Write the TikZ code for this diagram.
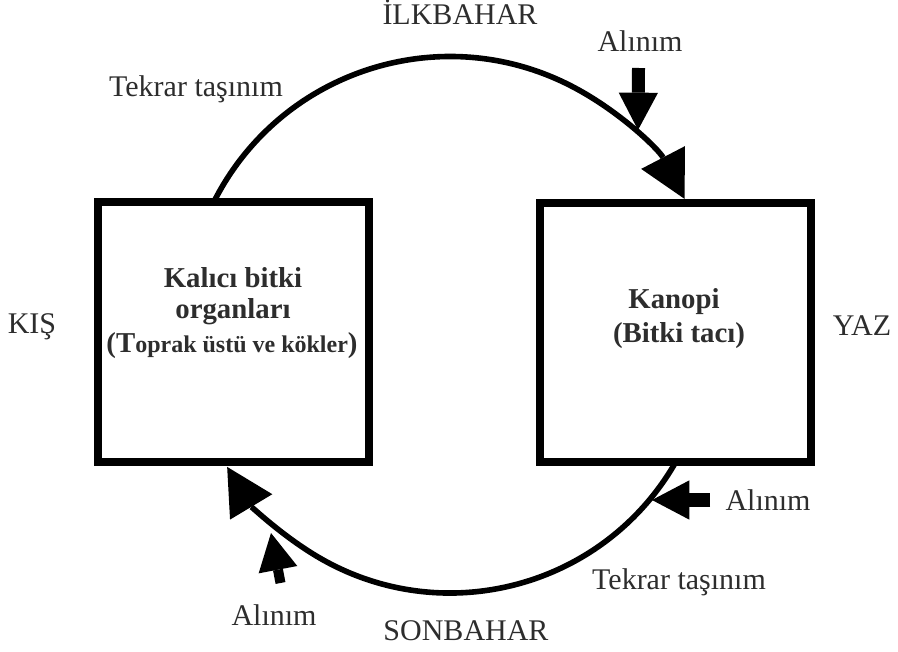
\documentclass[tikz,border=0pt]{standalone}
\usepackage{fontspec}
\setmainfont{Liberation Serif}
\usetikzlibrary{arrows.meta}
\definecolor{txtgray}{RGB}{45,45,45}
\begin{document}
\begin{tikzpicture}[x=0.75pt,y=-0.75pt,
  lbl/.style={font=\fontsize{22.5}{26}\selectfont, text=txtgray, inner sep=0pt, anchor=base},
  boxtxt/.style={font=\bfseries\fontsize{21.6}{25}\selectfont, text=txtgray, inner sep=0pt, anchor=base},
  organ/.style={draw=black, line width=6pt, inner sep=0pt},
  cyclearc/.style={line width=4.2pt, -{Triangle[length=35pt,width=37pt,line width=0pt]}},
  blockarr/.style={line width=#1, -{Triangle[length=28pt,width=29.5pt,line width=0pt]}}
]
\useasboundingbox (0,0) rectangle (898,652);

% boxes
\node[organ, minimum width=203.6pt, minimum height=195pt] (lbox) at (233.25,332) {};
\node[organ, minimum width=202.9pt, minimum height=194.6pt] (rbox) at (675.75,332.75) {};

% box texts
\node[boxtxt] (lt1) at (233,287) {Kalıcı bitki};
\node[boxtxt] (lt2) at (233,318) {organları};
\node[boxtxt] (lt3) at (232,352) {(T{\fontsize{18}{21}\selectfont oprak üstü ve kökler})};
\node[boxtxt] (rt1) at (674,308) {Kanopi};
\node[boxtxt] (rt2) at (679,342) {(Bitki tacı)};

% cycle arcs
\coordinate (ts) at (213.7,202.2);
\coordinate (bs) at (675.4,462.6);
\draw[cyclearc] (ts) arc[start angle=206.7, end angle=332.5, radius=264.5];
\draw[cyclearc] (bs) arc[start angle=29.9, end angle=149, radius=260];

% uptake arrows
\coordinate (u1s) at (638.5,68);  \coordinate (u1t) at (638,130);
\coordinate (u2s) at (710,500);   \coordinate (u2t) at (652,500);
\coordinate (u3s) at (280.5,583); \coordinate (u3t) at (271,533);
\draw[blockarr=9.75pt] (u1s) -- (u1t);
\draw[blockarr=10.5pt] (u2s) -- (u2t);
\draw[blockarr=7.5pt] (u3s) -- (u3t);

% labels
\node[lbl] (ilk) at (460,25) {İLKBAHAR};
\node[lbl] (son) at (466,640) {SONBAHAR};
\node[lbl] (kis) at (32,333) {KIŞ};
\node[lbl] (yaz) at (862,335) {YAZ};
\node[lbl] (tt1) at (196,97) {Tekrar taşınım};
\node[lbl] (tt2) at (679,589) {Tekrar taşınım};
\node[lbl] (al1) at (640,52) {Alınım};
\node[lbl] (al2) at (768,510) {Alınım};
\node[lbl] (al3) at (274,625) {Alınım};
\end{tikzpicture}
\end{document}
